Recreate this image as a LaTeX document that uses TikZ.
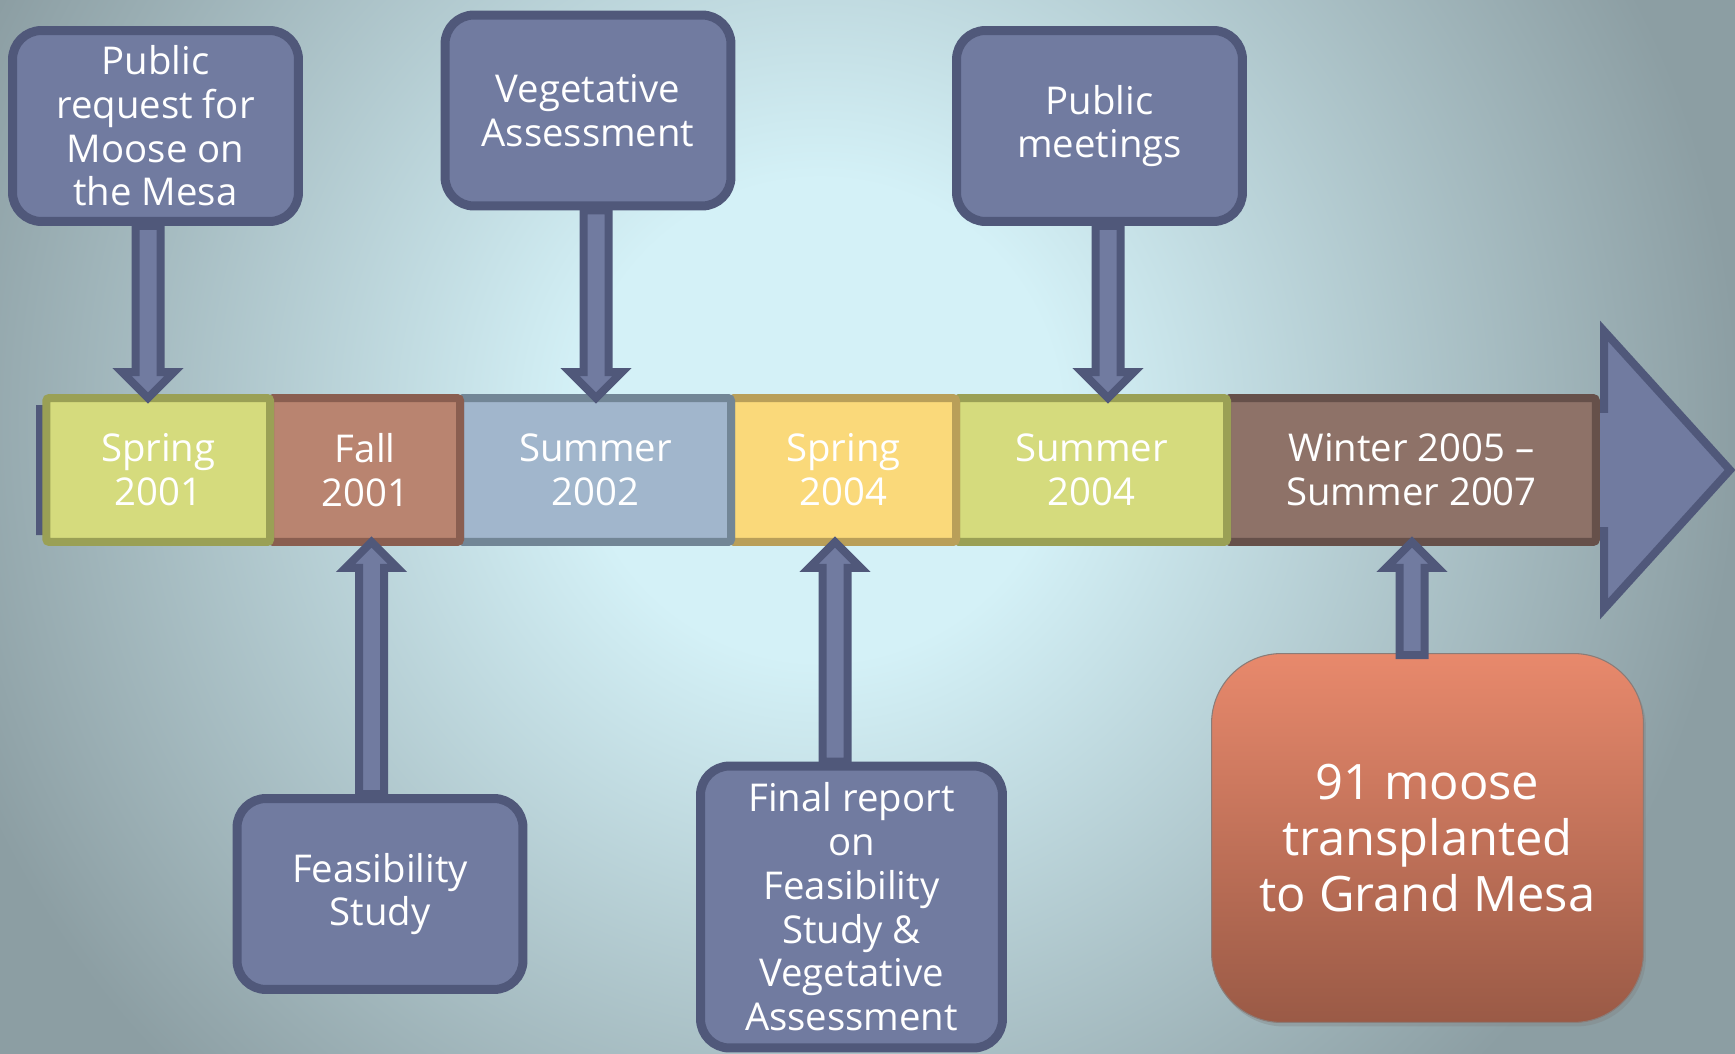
\documentclass[tikz,border=0pt]{standalone}
\usepackage{fontspec}
\setmainfont{Open Sans}
\usetikzlibrary{positioning,calc,shadows}

\definecolor{bgin}{HTML}{D4F1F7}
\definecolor{bgout}{HTML}{8C9EA3}
\definecolor{boxfill}{HTML}{717BA0}
\definecolor{boxline}{HTML}{50587A}
\definecolor{olivefill}{HTML}{D5DB7D}
\definecolor{oliveline}{HTML}{9AA055}
\definecolor{rustfill}{HTML}{B98470}
\definecolor{rustline}{HTML}{8A5E50}
\definecolor{slatefill}{HTML}{A1B6CC}
\definecolor{slateline}{HTML}{728696}
\definecolor{sandfill}{HTML}{FAD97A}
\definecolor{sandline}{HTML}{B99F59}
\definecolor{umberfill}{HTML}{8E7268}
\definecolor{umberline}{HTML}{66504A}
\definecolor{moosetop}{HTML}{E8896C}
\definecolor{moosebot}{HTML}{9A5A46}
\definecolor{mooseedge}{HTML}{8A7C78}

\pgfdeclareradialshading{bgglow}{\pgfpoint{0bp}{0bp}}{color(0bp)=(bgin); color(6bp)=(bgin); color(23bp)=(bgout); color(50bp)=(bgout)}

\newcommand{\tlfont}{\fontsize{21.8}{24.9}\selectfont}
% block arrow from #1 (tail) straight up or down to the height of #2
\newcommand{\tlarrow}[2]{%
  \draw[tlarr] let \p1=(#1), \p2=(#2), \n1={ifthenelse(\y2>\y1,1,-1)} in
    (\x1-0.25cm,\y1) -- (\x1-0.25cm,\y2-\n1*0.52cm) -- (\x1-0.52cm,\y2-\n1*0.52cm)
    -- (\x1,\y2) -- (\x1+0.52cm,\y2-\n1*0.52cm) -- (\x1+0.25cm,\y2-\n1*0.52cm)
    -- (\x1+0.25cm,\y1) -- cycle;}

\tikzset{
  note/.style={draw=boxline, fill=boxfill, line width=0.18cm, rounded corners=0.58cm,
    minimum width=5.72cm, minimum height=3.82cm, inner sep=0pt, align=center,
    text=white, font=\tlfont},
  seg/.style={line width=0.16cm, rounded corners=0.06cm, minimum height=2.88cm,
    inner sep=0pt, outer sep=0pt, align=center, text=white, font=\tlfont},
  tlarr/.style={draw=boxline, fill=boxfill, line width=0.16cm},
  moosebox/.style={draw=mooseedge, line width=0.6pt, top color=moosetop, bottom color=moosebot,
    rounded corners=1.4cm, minimum width=8.64cm, minimum height=7.38cm, align=center,
    text=white, font=\fontsize{27.8}{31.7}\selectfont,
    drop shadow={opacity=0.35, shadow xshift=0.05cm, shadow yshift=-0.08cm}}
}

\begin{document}
\begin{tikzpicture}[x=0.02cm, y=-0.02cm]
  \useasboundingbox (0,0) rectangle (1735,1054);
  \fill[bgout] (0,0) rectangle (1735,1054);
  \shade[shading=bgglow] (820,420) circle (20cm);

  % time line arrow, shaft hidden behind the periods
  \draw[tlarr] (40,409) -- (1604,409) -- (1604,331) -- (1730,470) -- (1604,609)
    -- (1604,531) -- (40,531) -- cycle;

  % periods, right to left so each one covers the left border of the next
  \node[seg, draw=umberline, fill=umberfill, minimum width=7.38cm] (win05) at (1411.5,470) {Winter 2005 --\\Summer 2007};
  \node[seg, draw=oliveline, fill=olivefill, minimum width=5.42cm, left=0pt of win05] (sum04) {Summer\\2004};
  \node[seg, draw=sandline, fill=sandfill, minimum width=4.5cm, left=0pt of sum04] (spr04) {Spring\\2004};
  \node[seg, draw=slateline, fill=slatefill, minimum width=5.42cm, left=0pt of spr04] (sum02) {Summer\\2002};
  \node[seg, draw=rustline, fill=rustfill, minimum width=3.8cm, left=0pt of sum02] (fall01) {Fall\\2001};
  \node[seg, draw=oliveline, fill=olivefill, minimum width=4.48cm, left=0pt of fall01] (spr01) {Spring\\2001};

  % events
  \node[note] (pubreq) at (155.5,126) {Public\\request for\\Moose on\\the Mesa};
  \node[note] (vegass) at (588,110.5) {Vegetative\\Assessment};
  \node[note] (pubmeet) at (1099.5,126) {Public\\meetings};
  \node[note] (feas) at (380,894) {Feasibility\\Study};
  \node[note, minimum width=6.04cm, minimum height=5.64cm] (final) at (851.5,907)
    {Final report\\on\\Feasibility\\Study \&\\Vegetative\\Assessment};
  \node[moosebox] (moose) at (1427.5,838) {91 moose\\transplanted\\to Grand Mesa};

  \tlarrow{[xshift=-0.15cm]pubreq.south}{spr01.north}
  \tlarrow{[xshift=0.16cm]vegass.south}{sum02.north}
  \tlarrow{[xshift=0.17cm]pubmeet.south}{sum04.north}
  \tlarrow{[xshift=-0.17cm]feas.north}{fall01.south}
  \tlarrow{[xshift=-0.33cm]final.north}{spr04.south}
  \tlarrow{[xshift=-0.31cm,yshift=-0.04cm]moose.north}{win05.south}
\end{tikzpicture}
\end{document}
